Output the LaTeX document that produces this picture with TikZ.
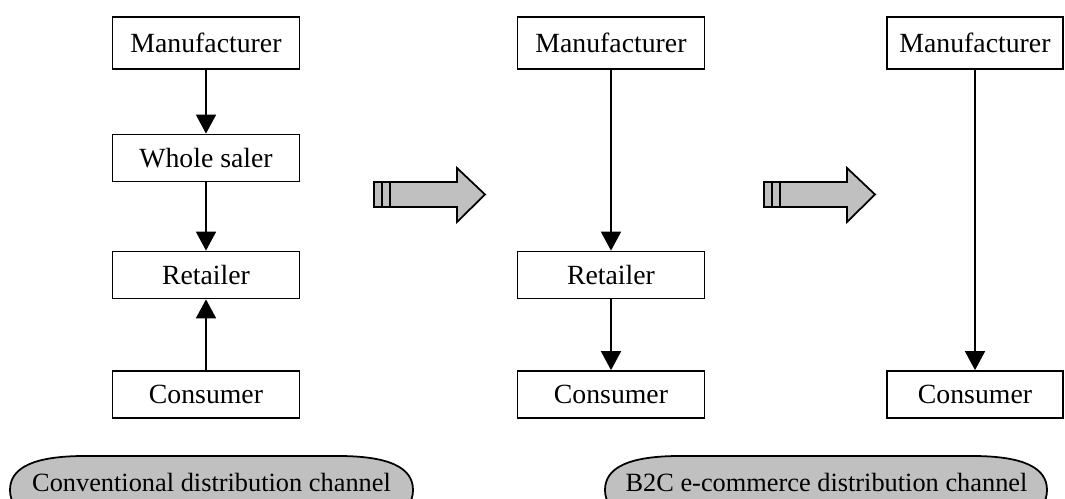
\documentclass[tikz,border=0pt]{standalone}
\usepackage{fontspec}
\setmainfont{Liberation Serif}
\usepackage{tikz}
\usetikzlibrary{arrows.meta, positioning}
\usepackage{xcolor}
\definecolor{panelgrey}{RGB}{192,192,192}

\tikzset{
  box/.style={draw, line width=1pt, fill=white, minimum width=3.74cm, minimum height=0.94cm, inner sep=0pt, font=\fontsize{15.8}{18}\selectfont},
  tallbox/.style={box, minimum height=1.04cm},
  flow/.style={-{Triangle[length=0.38cm, width=0.4cm]}, line width=1pt},
  channel/.style={draw, line width=1pt, fill=panelgrey},
  caption/.style={inner sep=0pt, font=\fontsize{15}{18}\selectfont}
}

\begin{document}
\begin{tikzpicture}[x=0.02cm, y=-0.02cm]
  \clip (0,0) rectangle (1065,499);
  \fill[white] (0,0) rectangle (1065,499);
  % Conventional channel
  \node[tallbox] (mfgA) at (206, 43) {Manufacturer};
  \node[box] (whsA) at (206, 158) {Whole saler};
  \node[box] (retA) at (206, 275) {Retailer};
  \node[box] (conA) at (206, 394.5) {Consumer};
  \draw[flow] (mfgA) -- (whsA);
  \draw[flow] (whsA) -- (retA);
  \draw[flow] (conA) -- (retA);
  % Shortened channel
  \node[tallbox] (mfgB) at (611, 43) {Manufacturer};
  \node[box] (retB) at (611, 275) {Retailer};
  \node[box] (conB) at (611, 394.5) {Consumer};
  \draw[flow] (mfgB) -- (retB);
  \draw[flow] (retB) -- (conB);
  % Direct channel
  \node[tallbox, minimum width=3.52cm] (mfgC) at (975, 43) {Manufacturer};
  \node[box, minimum width=3.52cm] (conC) at (975, 394.5) {Consumer};
  \draw[flow] (mfgC) -- (conC);
  % Block arrows
  \foreach \sx in {374, 764} {
    \draw[line width=1pt, fill=panelgrey, line join=miter]
      (\sx,182) -- (\sx+83,182) -- (\sx+83,168) -- (\sx+111,194.5)
      -- (\sx+83,222) -- (\sx+83,207) -- (\sx,207) -- cycle;
    \draw[line width=1pt] (\sx+8,182) -- (\sx+8,207);
    \draw[line width=1pt] (\sx+16,182) -- (\sx+16,207);
  }
  % Labels
  \foreach \xl/\xr in {10/413, 605/1047} {
    \draw[channel] (\xl,490) .. controls (\xl,467) and (\xl+25,456) .. (\xl+75,456)
      -- (\xr-75,456) .. controls (\xr-25,456) and (\xr,467) .. (\xr,490)
      .. controls (\xr,513) and (\xr-25,524) .. (\xr-75,524)
      -- (\xl+75,524) .. controls (\xl+25,524) and (\xl,513) .. (\xl,490) -- cycle;
  }
  \node[caption] (txtA) at (211.5, 482) {Conventional distribution channel};
  \node[caption] (txtB) at (826.5, 482) {B2C e-commerce distribution channel};
\end{tikzpicture}
\end{document}
